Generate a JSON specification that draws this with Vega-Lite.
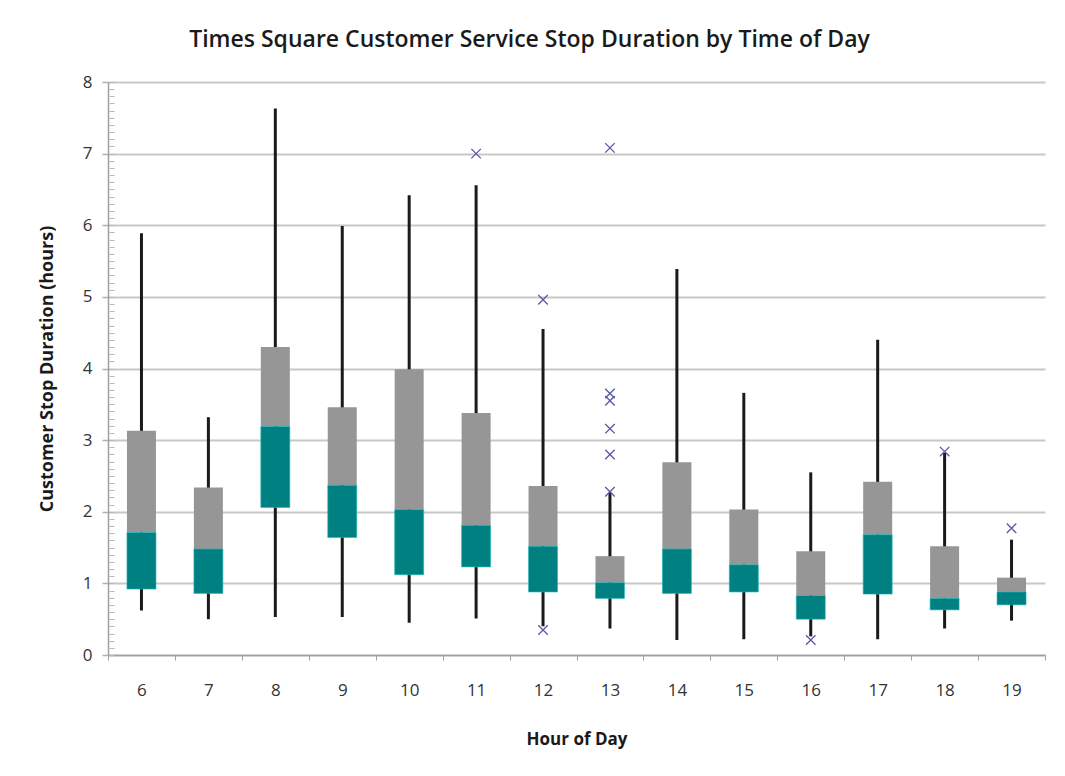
{
  "$schema": "https://vega.github.io/schema/vega-lite/v6.json",
  "width": 937,
  "height": 573,
  "autosize": {"type": "none"},
  "padding": {"left": 108, "top": 82, "right": 20, "bottom": 121},
  "background": "white",
  "title": {
    "text": "Times Square Customer Service Stop Duration by Time of Day",
    "font": "Open Sans",
    "fontSize": 23,
    "fontWeight": 600,
    "color": "#1a1a1a",
    "anchor": "middle",
    "dx": -47,
    "offset": 21
  },
  "datasets": {
    "boxes": [
      {"hour": 6, "lo": 0.62, "q1": 0.92, "med": 1.71, "q3": 3.13, "hi": 5.89},
      {"hour": 7, "lo": 0.5, "q1": 0.86, "med": 1.48, "q3": 2.34, "hi": 3.32},
      {"hour": 8, "lo": 0.53, "q1": 2.06, "med": 3.19, "q3": 4.3, "hi": 7.63},
      {"hour": 9, "lo": 0.53, "q1": 1.64, "med": 2.37, "q3": 3.46, "hi": 5.99},
      {"hour": 10, "lo": 0.45, "q1": 1.12, "med": 2.03, "q3": 3.99, "hi": 6.42},
      {"hour": 11, "lo": 0.51, "q1": 1.23, "med": 1.81, "q3": 3.38, "hi": 6.56},
      {"hour": 12, "lo": 0.4, "q1": 0.88, "med": 1.52, "q3": 2.36, "hi": 4.55},
      {"hour": 13, "lo": 0.37, "q1": 0.79, "med": 1.01, "q3": 1.38, "hi": 2.27},
      {"hour": 14, "lo": 0.21, "q1": 0.86, "med": 1.48, "q3": 2.69, "hi": 5.39},
      {"hour": 15, "lo": 0.22, "q1": 0.88, "med": 1.26, "q3": 2.03, "hi": 3.66},
      {"hour": 16, "lo": 0.26, "q1": 0.5, "med": 0.83, "q3": 1.45, "hi": 2.55},
      {"hour": 17, "lo": 0.22, "q1": 0.85, "med": 1.68, "q3": 2.42, "hi": 4.4},
      {"hour": 18, "lo": 0.37, "q1": 0.63, "med": 0.79, "q3": 1.52, "hi": 2.82},
      {"hour": 19, "lo": 0.48, "q1": 0.7, "med": 0.88, "q3": 1.08, "hi": 1.61}
    ],
    "outliers": [
      {"hour": 11, "value": 7.0},
      {"hour": 12, "value": 4.96},
      {"hour": 12, "value": 0.35},
      {"hour": 13, "value": 7.08},
      {"hour": 13, "value": 3.65},
      {"hour": 13, "value": 3.55},
      {"hour": 13, "value": 3.16},
      {"hour": 13, "value": 2.8},
      {"hour": 13, "value": 2.28},
      {"hour": 16, "value": 0.21},
      {"hour": 18, "value": 2.84},
      {"hour": 19, "value": 1.77}
    ]
  },
  "config": {
    "view": {"stroke": null},
    "axis": {"labelFont": "Open Sans", "titleFont": "Open Sans", "labelColor": "#333333", "titleColor": "#1a1a1a"}
  },
  "resolve": {"axis": {"y": "independent"}},
  "layer": [
    {
      "data": {"name": "boxes"},
      "mark": {"type": "rule", "color": "#1a1a1a", "strokeWidth": 3},
      "encoding": {
        "x": {
          "field": "hour",
          "type": "ordinal",
          "scale": {"paddingInner": 0, "paddingOuter": 0},
          "axis": {
            "title": "Hour of Day",
            "titleFontSize": 17,
            "titleFontWeight": 700,
            "titlePadding": 33,
            "labelFontSize": 17,
            "labelAngle": 0,
            "labelPadding": 22,
            "tickBand": "extent",
            "tickSize": 5,
            "tickColor": "#a0a0a0",
            "domainColor": "#a0a0a0",
            "domainWidth": 1.5,
            "grid": false
          }
        },
        "y": {
          "field": "lo",
          "type": "quantitative",
          "scale": {"domain": [0, 8], "nice": false},
          "axis": {
            "orient": "left",
            "title": "Customer Stop Duration (hours)",
            "titleFontSize": 18,
            "titleFontWeight": 700,
            "titlePadding": 26,
            "labelFontSize": 17,
            "labelPadding": 10,
            "values": [0, 1, 2, 3, 4, 5, 6, 7, 8],
            "format": "d",
            "grid": true,
            "gridColor": "#c8c8c8",
            "gridWidth": 2,
            "tickSize": 6,
            "tickColor": "#b0b0b0",
            "tickWidth": 1.5,
            "domainColor": "#a0a0a0",
            "domainWidth": 1.5
          }
        },
        "y2": {"field": "hi"}
      }
    },
    {
      "data": {"name": "boxes"},
      "mark": {"type": "bar", "color": "#969696", "size": 29},
      "encoding": {
        "x": {"field": "hour", "type": "ordinal"},
        "y": {
          "field": "med",
          "type": "quantitative",
          "axis": {
            "orient": "left",
            "title": null,
            "labels": false,
            "grid": false,
            "domain": false,
            "offset": -6,
            "tickSize": 5,
            "tickColor": "#b8b8b8",
            "values": [0,0.1,0.2,0.3,0.4,0.5,0.6,0.7,0.8,0.9,1,1.1,1.2,1.3,1.4,1.5,1.6,1.7,1.8,1.9,2,2.1,2.2,2.3,2.4,2.5,2.6,2.7,2.8,2.9,3,3.1,3.2,3.3,3.4,3.5,3.6,3.7,3.8,3.9,4,4.1,4.2,4.3,4.4,4.5,4.6,4.7,4.8,4.9,5,5.1,5.2,5.3,5.4,5.5,5.6,5.7,5.8,5.9,6,6.1,6.2,6.3,6.4,6.5,6.6,6.7,6.8,6.9,7,7.1,7.2,7.3,7.4,7.5,7.6,7.7,7.8,7.9,8]
          }
        },
        "y2": {"field": "q3"}
      }
    },
    {
      "data": {"name": "boxes"},
      "mark": {"type": "bar", "color": "#008080", "size": 29, "stroke": "#20b8b8", "strokeWidth": 0.6},
      "encoding": {
        "x": {"field": "hour", "type": "ordinal"},
        "y": {"field": "q1", "type": "quantitative", "axis": null},
        "y2": {"field": "med"}
      }
    },
    {
      "data": {"name": "outliers"},
      "mark": {"type": "point", "shape": "M-1,-1L1,1M-1,1L1,-1", "filled": false, "size": 90, "stroke": "#5858a8", "strokeWidth": 1.3, "opacity": 1},
      "encoding": {
        "x": {"field": "hour", "type": "ordinal"},
        "y": {"field": "value", "type": "quantitative", "axis": null}
      }
    }
  ]
}
